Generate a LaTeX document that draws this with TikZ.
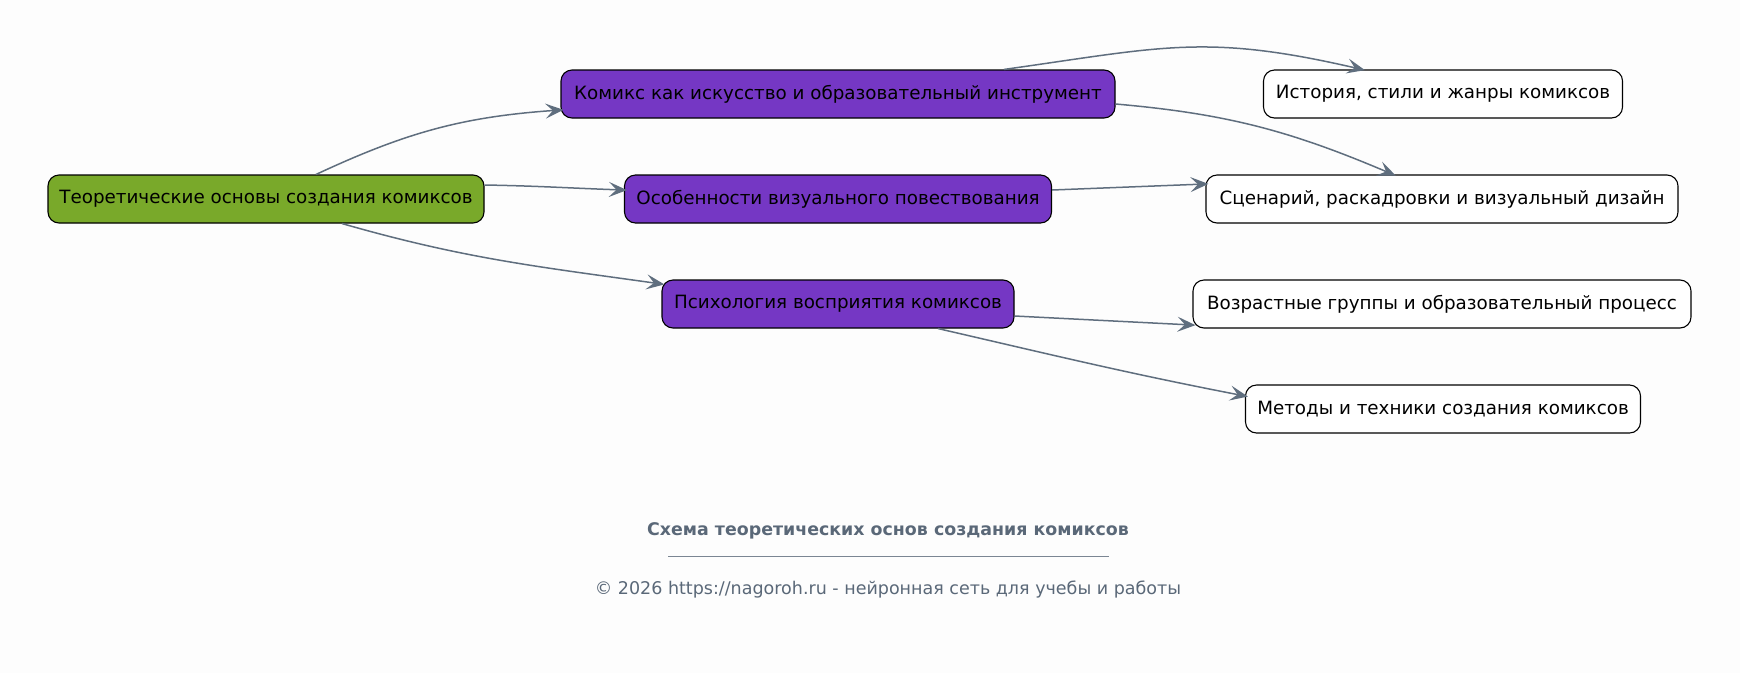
\documentclass[tikz,border=0pt]{standalone}
\usepackage{fontspec}
\setmainfont{DejaVu Sans}
\usetikzlibrary{arrows.meta}
\definecolor{bg}{HTML}{FDFDFD}
\definecolor{rootc}{HTML}{79A92A}
\definecolor{midc}{HTML}{7537C4}
\definecolor{edgec}{HTML}{5F6E7E}
\definecolor{titlec}{HTML}{5A6878}
\tikzset{
  box/.style={draw=black, line width=1.1pt, rounded corners=11pt, minimum height=48pt, inner xsep=10pt, font=\fontsize{18.3}{21}\selectfont, text=black},
  rootbox/.style={box, fill=rootc},
  midbox/.style={box, fill=midc},
  leafbox/.style={box, fill=white},
  conn/.style={draw=edgec, line width=1.5pt, shorten >=-3pt, -{Stealth[length=18pt,width=15pt,inset=7.5pt]}},
}
\begin{document}
\begin{tikzpicture}[x=1pt,y=-1pt]
\fill[bg] (0,0) rectangle (1740,673);
\useasboundingbox (0,0) rectangle (1740,673);
\node[rootbox, minimum width=436pt] (root) at (266,199) {Теоретические основы создания комиксов};
\node[midbox, minimum width=554pt] (kom) at (838,94) {Комикс как искусство и образовательный инструмент};
\node[midbox, minimum width=427pt] (osob) at (838,199) {Особенности визуального повествования};
\node[midbox, minimum width=352pt] (psy) at (838,304) {Психология восприятия комиксов};
\node[leafbox, minimum width=359pt] (ist) at (1443,94) {История, стили и жанры комиксов};
\node[leafbox, minimum width=472pt] (scen) at (1442,199) {Сценарий, раскадровки и визуальный дизайн};
\node[leafbox, minimum width=498pt] (voz) at (1442,304) {Возрастные группы и образовательный процесс};
\node[leafbox, minimum width=395pt] (met) at (1443,409) {Методы и техники создания комиксов};

\draw[conn] ([xshift=50pt]root.north) to[out=25,in=184] ([yshift=-16pt]kom.west);
\draw[conn] ([yshift=14pt]root.east) to[out=-1,in=178] ([yshift=9pt]osob.west);
\draw[conn] ([xshift=76pt]root.south) to[out=-16,in=172] ([yshift=20pt]psy.west);
\draw[conn] ([xshift=166pt]kom.north) to[out=8,in=167,looseness=1.15] ([xshift=-81pt]ist.north);
\draw[conn] ([yshift=-10pt]kom.east) to[out=-5,in=157] ([xshift=-49pt]scen.north);
\draw[conn] ([yshift=9pt]osob.east) -- ([yshift=15pt]scen.west);
\draw[conn] ([yshift=-12pt]psy.east) -- ([yshift=-21pt]voz.west);
\draw[conn] ([xshift=100pt]psy.south) to[out=-13,in=169] ([yshift=13pt]met.west);

\node[font=\fontsize{17.4}{20}\selectfont\bfseries, text=titlec] (title) at (888,531) {Схема теоретических основ создания комиксов};
\draw[draw=titlec!80, line width=0.9pt] (668,556) -- (1109,556);
\node[font=\fontsize{17.5}{20}\selectfont, text=titlec] (copy) at (888,590) {© 2026 https://nagoroh.ru - нейронная сеть для учебы и работы};
\end{tikzpicture}
\end{document}
